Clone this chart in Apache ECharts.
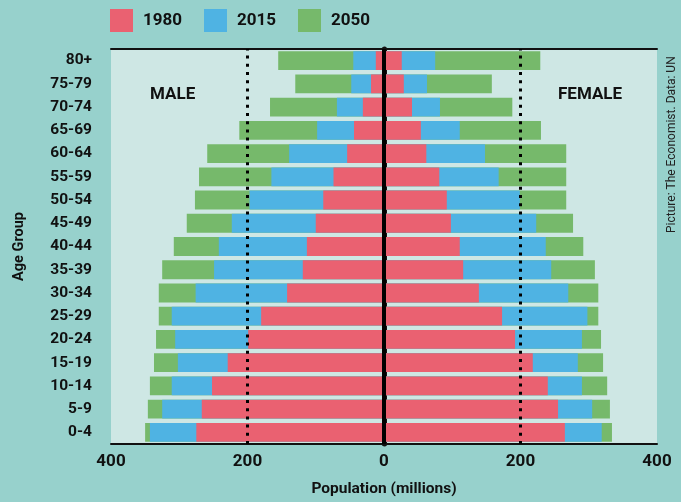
<!DOCTYPE html>
<html><head><meta charset="utf-8">
<script src="https://cdn.jsdelivr.net/npm/echarts@6/dist/echarts.min.js"></script>
<style>html,body{margin:0;padding:0;background:#97D1CC;}#c{width:681px;height:502px;}</style>
</head><body><div id="c"></div>
<script>
const ageGroups = ['0-4','5-9','10-14','15-19','20-24','25-29','30-34','35-39','40-44','45-49','50-54','55-59','60-64','65-69','70-74','75-79','80+'];
const male1980   = [275,267,252,229,199,180,142,119,113,100,89,74,54,44,31,19,12];
const male2015   = [343,325,311,302,306,311,276,249,242,223,197,165,139,98,69,48,45];
const male2050   = [350,346,343,337,334,330,330,325,308,289,277,271,259,212,167,130,155];
const female1980 = [265,255,240,218,192,173,139,116,111,98,92,81,62,54,41,29,26];
const female2015 = [319,305,290,284,290,298,270,245,237,223,199,168,148,111,82,63,75];
const female2050 = [334,331,327,321,318,314,314,309,292,277,267,267,267,230,188,158,229];
const xTicks = [-400,-200,0,200,400];

const C1980 = '#EA6171', C2015 = '#4FB3E3', C2050 = '#76B96B';
const FONT = 'Roboto';
const neg = a => a.map(v => -v);

function bar(name, data, color, extra) {
  return Object.assign({
    name, type: 'bar', data, barWidth: '81%', barGap: '-100%',
    itemStyle: { color }, silent: true, animation: false
  }, extra || {});
}

const chart = echarts.init(document.getElementById('c'));
chart.setOption({
  backgroundColor: '#97D1CC',
  animation: false,
  textStyle: { fontFamily: FONT },
  legend: {
    data: ['1980','2015','2050'], top: 4, left: 105,
    itemWidth: 23, itemHeight: 23, itemGap: 22, icon: 'rect',
    textStyle: { fontSize: 17, fontWeight: 'bold', color: '#111', padding: [0,0,0,5], fontFamily: FONT }
  },
  grid: { left: 111, right: 24, top: 49, bottom: 54, show: true, backgroundColor: '#CEE7E4', borderWidth: 0 },
  xAxis: [{
    type: 'value', min: -400, max: 400, interval: 200,
    axisLine: { show: true, lineStyle: { color: '#111', width: 2 } },
    axisTick: { show: false }, splitLine: { show: false },
    axisLabel: { formatter: v => Math.abs(v), fontSize: 17, fontWeight: 'bold', color: '#111', margin: 9, fontFamily: FONT },
    name: 'Population (millions)', nameLocation: 'middle', nameGap: 37,
    nameTextStyle: { fontSize: 15.5, fontWeight: 'bold', color: '#111', fontFamily: FONT }
  }, {
    type: 'value', min: -400, max: 400, position: 'top',
    axisLine: { show: true, lineStyle: { color: '#111', width: 2 } },
    axisTick: { show: false }, splitLine: { show: false }, axisLabel: { show: false }
  }],
  yAxis: [{
    type: 'category', data: ageGroups, position: 'left',
    axisLine: { show: true, lineStyle: { color: '#111', width: 4 } },
    axisTick: { show: false },
    axisLabel: { fontSize: 15.5, fontWeight: 'bold', color: '#111', margin: 19, fontFamily: FONT },
    name: 'Age Group', nameLocation: 'middle', nameGap: 84, nameRotate: 90,
    nameTextStyle: { fontSize: 14.5, fontWeight: 'bold', color: '#111', fontFamily: FONT }
  }, {
    type: 'category', data: ageGroups, position: 'right',
    axisLine: { show: true, lineStyle: { color: '#111', width: 5 } },
    axisTick: { show: false }, axisLabel: { show: false }
  }],
  series: [
    bar('2050', neg(male2050), C2050),
    bar('2050', female2050, C2050),
    bar('2015', neg(male2015), C2015),
    bar('2015', female2015, C2015),
    bar('1980', neg(male1980), C1980),
    bar('1980', female1980, C1980, {
      markLine: {
        silent: true, symbol: 'none', label: { show: false }, z: 10,
        data: [
          { xAxis: 0, lineStyle: { color: '#000', width: 4, type: 'solid' } },
          { xAxis: -200, lineStyle: { color: '#000', width: 3, type: [3, 5.2] } },
          { xAxis: 200, lineStyle: { color: '#000', width: 3, type: [3, 5.2] } }
        ]
      }
    })
  ],
  graphic: [
    { type: 'text', left: 150, top: 86, style: { text: 'MALE', fontSize: 17, fontWeight: 'bold', fill: '#111', fontFamily: FONT } },
    { type: 'text', left: 558, top: 86, style: { text: 'FEMALE', fontSize: 17, fontWeight: 'bold', fill: '#111', fontFamily: FONT } },
    { type: 'text', x: 666, y: 233, rotation: Math.PI / 2,
      style: { text: 'Picture: The Economist. Data: UN', fontSize: 12, fill: '#222', fontFamily: FONT } }
  ]
});
</script></body></html>
